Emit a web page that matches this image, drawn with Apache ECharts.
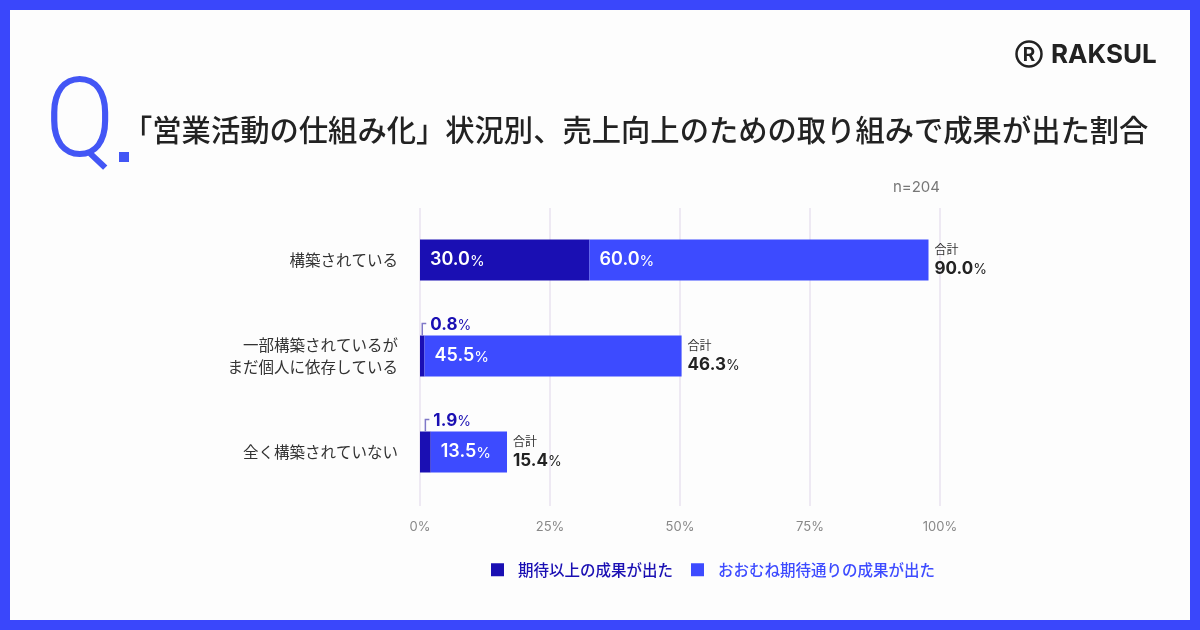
<!DOCTYPE html>
<html><head><meta charset="utf-8">
<script src="https://cdn.jsdelivr.net/npm/echarts@6/dist/echarts.min.js"></script>
<style>html,body{margin:0;padding:0;background:#fff}#c{width:1200px;height:630px}</style>
</head><body><div id="c"></div>
<script>
const categories = ['構築されている', '一部構築されているが\nまだ個人に依存している', '全く構築されていない'];
const seriesNames = ['期待以上の成果が出た', 'おおむね期待通りの成果が出た'];
const exceeded = [30.0, 0.8, 1.9];
const asExpected = [60.0, 45.5, 13.5];
const totals = [90.0, 46.3, 15.4];
const tickMax = 100, tickStep = 25;
const sampleSize = 'n=204';
const titleText = '「営業活動の仕組み化」状況別、売上向上のための取り組みで成果が出た割合';

const DARK = '#1a0fb3', BLUE = '#3d4bff', FRAME = '#3a47fb';
const JP = '"Noto Sans CJK JP", "Noto Sans", sans-serif';
const NUM = 'Inter, "Noto Sans", sans-serif';
const BAR_H = 41;

const chart = echarts.init(document.getElementById('c'), null, {renderer: 'canvas'});

function insideLabel() {
  return {
    show: true, position: 'insideLeft', distance: 10,
    formatter: p => p.value >= 5 ? `{v|${p.value.toFixed(1)}}{p|%}` : '',
    rich: {
      v: {fontSize: 18, fontWeight: 600, color: '#fff', fontFamily: NUM},
      p: {fontSize: 15, color: '#fff', fontFamily: NUM, padding: [2, 0, 0, 0]}
    }
  };
}

const option = {
  backgroundColor: '#fdfdfd',
  animation: false,
  grid: [
    {left: 420, width: 565, top: 212, height: 288},
    {left: 420, width: 520, top: 208, height: 298}
  ],
  xAxis: [
    {gridIndex: 0, type: 'value', min: 0, max: 100, show: false},
    {gridIndex: 1, type: 'value', min: 0, max: tickMax, interval: tickStep,
     axisLine: {show: false}, axisTick: {show: false},
     splitLine: {show: true, lineStyle: {color: '#eee9f3', width: 2}},
     axisLabel: {formatter: '{value}%', color: '#888', fontSize: 13, margin: 15, fontFamily: NUM}}
  ],
  yAxis: [
    {gridIndex: 0, type: 'category', data: categories, inverse: true,
     axisLine: {show: false}, axisTick: {show: false}, splitLine: {show: false},
     axisLabel: {fontSize: 15.5, color: '#333', margin: 22, lineHeight: 22, fontFamily: JP, align: 'right'}},
    {gridIndex: 1, type: 'category', data: categories, show: false}
  ],
  legend: {
    left: 486, top: 557, itemWidth: 13, itemHeight: 13, itemGap: 18, icon: 'rect',
    data: [
      {name: seriesNames[0], textStyle: {color: DARK}},
      {name: seriesNames[1], textStyle: {color: BLUE}}
    ],
    textStyle: {fontSize: 15.5, fontFamily: JP, fontWeight: 500, padding: [0, 0, 0, 9]}
  },
  series: [
    {name: seriesNames[0], type: 'bar', stack: 's', xAxisIndex: 0, yAxisIndex: 0,
     data: exceeded, barWidth: BAR_H, itemStyle: {color: DARK}, label: insideLabel(), z: 3},
    {name: seriesNames[1], type: 'bar', stack: 's', xAxisIndex: 0, yAxisIndex: 0,
     data: asExpected, barWidth: BAR_H, itemStyle: {color: BLUE}, label: insideLabel(), z: 3},
    {type: 'custom', xAxisIndex: 0, yAxisIndex: 0, z: 4,
     data: totals.map((t, i) => [t, i, exceeded[i]]),
     encode: {x: 0, y: 1},
     renderItem: function (params, api) {
       const total = api.value(0), idx = api.value(1), dark = api.value(2);
       const end = api.coord([total, idx]);
       const start = api.coord([0, idx]);
       const darkEnd = api.coord([dark, idx]);
       const children = [
         {type: 'text', style: {x: end[0] + 6, y: end[1] - 11, text: '合計', fontSize: 12, fill: '#333',
           fontFamily: JP, verticalAlign: 'middle'}},
         {type: 'text', style: {x: end[0] + 6, y: end[1] + 9, text: `{v|${total.toFixed(1)}}{p|%}`,
           verticalAlign: 'middle',
           rich: {v: {fontSize: 17, fontWeight: 'bold', fill: '#222', fontFamily: NUM},
                  p: {fontSize: 14, fill: '#222', fontFamily: NUM, padding: [2, 0, 0, 0]}}}}
       ];
       if (dark < 5) {
         const bx = (start[0] + darkEnd[0]) / 2;
         const top = end[1] - BAR_H / 2;
         const ty = top - 12;
         children.push({type: 'polyline', shape: {points: [[bx, top], [bx, ty], [bx + 4, ty]]},
           style: {stroke: '#7f78c8', lineWidth: 1.5, fill: null}});
         children.push({type: 'text', style: {x: bx + 8, y: ty + 1, text: `{v|${dark.toFixed(1)}}{p|%}`,
           verticalAlign: 'middle',
           rich: {v: {fontSize: 17, fontWeight: 'bold', fill: DARK, fontFamily: NUM},
                  p: {fontSize: 14, fill: DARK, fontFamily: NUM, padding: [2, 0, 0, 0]}}}});
       }
       return {type: 'group', children};
     }}
  ],
  graphic: [
    {type: 'rect', shape: {x: 5, y: 5, width: 1190, height: 620}, style: {fill: null, stroke: FRAME, lineWidth: 10}, z: 100},
    {type: 'text', x: 45, y: 128, scaleX: 0.92, style: {x: 0, y: 0, text: 'Q', fontSize: 112, fontWeight: 300,
      fontFamily: 'Roboto, Inter, sans-serif', fill: '#4356f5', verticalAlign: 'middle'}},
    {type: 'rect', shape: {x: 119, y: 152, width: 10, height: 10}, style: {fill: '#4356f5'}},
    {type: 'text', style: {x: 123, y: 130, text: titleText, fontSize: 29.3, fontWeight: 500, fontFamily: JP,
      fill: '#222', verticalAlign: 'middle'}},
    {type: 'text', style: {x: 940, y: 187, text: sampleSize, fontSize: 15, fontFamily: NUM, fill: '#777',
      align: 'right', verticalAlign: 'middle'}},
    {type: 'circle', shape: {cx: 1029, cy: 54, r: 12.5}, style: {fill: null, stroke: '#222', lineWidth: 2.5}},
    {type: 'text', style: {x: 1029, y: 55, text: 'R', fontSize: 19, fontWeight: 'bold', fontFamily: NUM,
      fill: '#222', align: 'center', verticalAlign: 'middle'}},
    {type: 'text', style: {x: 1051, y: 55, text: 'RAKSUL', fontSize: 26, fontWeight: 'bold', fontFamily: NUM,
      fill: '#222', verticalAlign: 'middle'}}
  ]
};
chart.setOption(option);
</script></body></html>
